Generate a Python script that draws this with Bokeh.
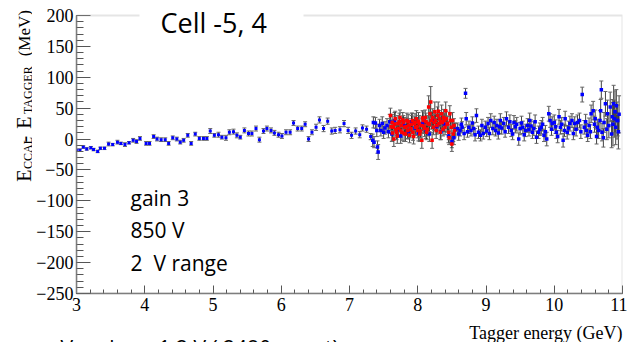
import math
from bokeh.plotting import figure
from bokeh.layouts import column, row
from bokeh.models import (ColumnDataSource, Whisker, TeeHead, Label, Range1d, BoxAnnotation,
                          SingleIntervalTicker, CustomJSTickFormatter)
from bokeh.embed import file_html
from bokeh.resources import INLINE

# ---------------- data ----------------
# low-energy scan, blue, small errors
low_x = [3.00, 3.05, 3.10, 3.15, 3.21, 3.25, 3.31, 3.35, 3.41, 3.47, 3.53, 3.60, 3.65, 3.71, 3.77, 3.83, 3.88, 3.93,
         4.02, 4.07, 4.13, 4.18, 4.24, 4.30, 4.35, 4.41, 4.47, 4.52, 4.57, 4.63, 4.68, 4.74, 4.80, 4.86, 4.91, 4.96,
         5.02, 5.08, 5.13, 5.19, 5.24, 5.30, 5.35, 5.40, 5.46, 5.52, 5.57, 5.63, 5.68, 5.74, 5.79, 5.85, 5.90, 5.96,
         6.01, 6.07, 6.13, 6.18, 6.24, 6.30, 6.35, 6.40, 6.45, 6.51, 6.56, 6.62, 6.68, 6.74, 6.79, 6.86, 6.92, 6.98,
         7.03, 7.09, 7.15, 7.19, 7.25, 7.31]
low_y = [-18, -18, -13, -16, -14, -17, -20, -15, -15, -8, -9, -5, -7, -9, -6, -2, -4, 1,
         -7, -7, 4, 0, -1, -1, -7, 2, 0, -5, -2, 6, -7, 8, 1, 1, 1, 13,
         6, 7, 3, 2, 11, 12, 6, 3, 14, 9, 9, 17, -1, 13, 17, 14, 10, 7,
         5, 11, 11, 26, 17, 17, 24, 0, 11, 19, 31, 17, 29, 13, 14, 15, 25, 14,
         6, 13, 7, 18, 16, 4]
low_err = [2, 2, 2, 2, 2, 2, 2, 2, 2, 3, 2, 3, 2, 3, 2, 3, 3, 3,
           3, 3, 3, 3, 3, 3, 3, 3, 3, 3, 3, 3, 3, 3, 3, 3, 3, 4,
           3, 4, 3, 4, 4, 4, 4, 3, 4, 4, 4, 4, 4, 4, 4, 4, 4, 4,
           4, 4, 4, 4, 4, 4, 4, 4, 4, 5, 5, 5, 5, 5, 5, 5, 5, 5,
           5, 5, 5, 5, 5, 5]

# high-energy scan, blue
high_x = [7.34, 7.35, 7.36, 7.38, 7.40, 7.41, 7.42, 7.44, 7.46, 7.48, 7.50, 7.52, 7.55, 7.57, 7.59,
          7.62, 7.66, 7.70, 7.75, 7.80, 7.86, 7.91, 7.96, 8.01, 8.07, 8.12, 8.17, 8.22, 8.28, 8.34, 8.39,
          8.45, 8.50, 8.53, 8.55,
          8.58, 8.60, 8.62, 8.64, 8.65, 8.68, 8.70, 8.71, 8.73, 8.75, 8.78, 8.80, 8.82, 8.84, 8.86, 8.89,
          8.92, 8.94, 8.96, 8.99, 9.01, 9.03, 9.05, 9.07, 9.10, 9.12, 9.14, 9.16, 9.18, 9.20,
          9.21, 9.23, 9.26, 9.28, 9.30, 9.33, 9.35, 9.37, 9.39, 9.41, 9.43, 9.45, 9.48, 9.50, 9.52, 9.54,
          9.56, 9.58, 9.61, 9.63, 9.64, 9.66, 9.68, 9.70, 9.72, 9.74, 9.77, 9.79, 9.81, 9.83, 9.85, 9.87,
          9.89, 9.92, 9.94, 9.96, 9.97, 10.00, 10.02, 10.03, 10.05, 10.07, 10.09, 10.11, 10.13, 10.15,
          10.16, 10.19, 10.21, 10.23, 10.26, 10.28, 10.30, 10.32, 10.34, 10.37, 10.39, 10.41, 10.44,
          10.46, 10.47, 10.49, 10.51, 10.53, 10.54, 10.57, 10.59, 10.60, 10.62, 10.63, 10.65, 10.67,
          10.68, 10.69, 10.70, 10.72, 10.73, 10.75, 10.77, 10.78, 10.80, 10.82, 10.84, 10.85, 10.86,
          10.87, 10.88, 10.89, 10.90, 10.91, 10.92, 10.93, 10.94, 10.95]
high_y = [-2, 27, -5, 26, 14, -13, -21, 22, 14, 25, 11, 18, 22, 12, 28,
          8, 30, 15, 5, 22, 12, 28, 18, 10, 25, 15, 8, 30, 20, 12, 24,
          5, -4, 2, 15,
          17, 8, 14, 24, 19, 9, 74, 33, 12, 19, 14, 26, 17, 7, 38, 11,
          6, 22, 9, 19, 13, 25, 9, 30, 17, 27, 14, 22, 10, 20,
          30, 18, 25, 12, 33, 19, 28, 14, 8, 27, 20, 24, 0, 17, 26, 19,
          7, 14, 22, 15, 30, 21, 11, 17, 28, 3, 11, 16, 19, 24, 6, 12,
          0, 41, 30, 16, 25, 27, 20, 11, 4, 36, 19, 24, -2, 14,
          33, 11, 18, 25, 30, 9, 25, 16, 27, 30, 12, 72, 19,
          28, 14, 6, 22, 12, 41, 46, 24, 33, 4, 19, 14, 30,
          46, 80, 11, 2, 27, 57, 16, 41, 22, 52, 8, 36, 24,
          57, 33, 44, 19, 54, 30, 30, 12, 40]
high_err = [10, 9, 9, 9, 10, 10, 12, 10, 9, 11, 10, 10, 11, 10, 12,
            12, 13, 12, 12, 13, 12, 14, 12, 13, 12, 14, 12, 13, 12, 13, 12,
            11, 10, 11, 10,
            9, 10, 9, 10, 9, 10, 8, 10, 9, 10, 9, 10, 9, 10, 11, 10,
            9, 10, 9, 10, 9, 10, 10, 11, 10, 10, 9, 10, 10, 11,
            11, 10, 10, 9, 11, 10, 11, 10, 9, 11, 10, 11, 10, 10, 11, 10,
            10, 10, 11, 10, 12, 10, 10, 11, 11, 10, 10, 10, 11, 11, 10, 10,
            11, 12, 11, 10, 11, 12, 11, 10, 10, 12, 11, 11, 11, 10,
            12, 11, 11, 12, 11, 10, 11, 11, 12, 12, 11, 12, 11,
            12, 11, 10, 12, 11, 14, 15, 13, 14, 12, 13, 13, 16,
            18, 14, 14, 15, 16, 20, 17, 22, 20, 24, 22, 28, 35,
            30, 30, 34, 28, 26, 30, 25, 28, 30]

# high-energy scan, red
red_x = [7.60, 7.61, 7.625, 7.63, 7.64, 7.65, 7.66, 7.67, 7.68, 7.69, 7.70, 7.71, 7.72, 7.73, 7.74, 7.75,
         7.76, 7.77, 7.78, 7.79, 7.80, 7.81, 7.82, 7.83, 7.84, 7.85, 7.86, 7.87, 7.88, 7.89, 7.90, 7.91,
         7.92, 7.93, 7.94, 7.95, 7.96, 7.97, 7.98, 7.99, 8.00, 8.01, 8.02, 8.03, 8.04, 8.05, 8.06, 8.07,
         8.08, 8.09, 8.10, 8.11, 8.12, 8.13, 8.14, 8.15, 8.16, 8.17, 8.18, 8.19, 8.20, 8.21, 8.22, 8.23,
         8.24, 8.25, 8.26, 8.27, 8.28, 8.29, 8.30, 8.31, 8.32, 8.33, 8.34, 8.35, 8.36, 8.37, 8.38, 8.39,
         8.40, 8.41, 8.42, 8.43, 8.44, 8.455, 8.46, 8.47, 8.48, 8.49, 8.50, 8.51, 8.52, 8.53, 8.54]
red_y = [38, 20, 27, 10, 19, 0, 24, 33, 16, 11, 5, 25, 17, 28, 35, 14,
         22, 11, 31, 27, 9, 19, 8, 20, 30, 14, 28, 22, 6, 15, 17, 24,
         30, 11, 4, 25, 27, 19, 33, 20, 14, 29, 25, 8, 13, 22, -2, 34,
         30, 21, 17, 35, 28, 11, 16, 25, 52, 24, 41, 60, 30, -2, 35, 19,
         27, 44, 30, 14, 22, 38, 45, 25, 33, 11, 28, 41, 27, 16, 35, 30,
         19, 46, 33, 24, 25, 11, 2, 41, 30, 19, -8, 30, 8, 22, 14]
red_err = [12, 11, 13, 12, 11, 12, 13, 12, 11, 12, 12, 13, 12, 14, 12, 11,
           12, 13, 12, 11, 13, 12, 12, 14, 12, 13, 12, 11, 12, 13, 12, 14,
           12, 13, 12, 11, 14, 12, 13, 12, 12, 14, 13, 12, 11, 12, 13, 12,
           14, 12, 13, 12, 14, 12, 11, 13, 18, 12, 20, 25, 14, 13, 14, 12,
           13, 16, 12, 13, 12, 14, 15, 12, 13, 12, 13, 14, 12, 11, 13, 12,
           12, 14, 12, 13, 12, 12, 11, 13, 12, 11, 12, 13, 12, 11, 12]

x_tick_interval = 1
y_tick_interval = 50
x_title = "Tagger energy (GeV)"
plot_title = "Cell -5, 4"
notes = ["gain 3", "850 V", "2\u00a0 V range"]

SANS = "Open Sans"
SERIF = "Liberation Serif"
# distance (in em) from the alphabetic baseline up to the middle of the text box
MID = {SANS: 0.388, SERIF: 0.3375}

# ---------------- layout (page pixels) ----------------
PAGE_W, PAGE_H = 627, 342
LEFT_W = 32            # strip holding the rotated y title
MAIN_H = 320           # main figure height
FRAME_L, FRAME_R, FRAME_T, FRAME_B = 76, 622, 15, 293   # where x=3..11 / y=200..-250 sit
X0, X1 = 3, 11
Y0, Y1 = -250, 200
YTOP = Y1 + (FRAME_T - 0) * (Y1 - Y0) / (FRAME_B - FRAME_T)   # frame reaches the page top


def dx(px):
    return X0 + (px - FRAME_L) * (X1 - X0) / (FRAME_R - FRAME_L)


def dy(py):
    return Y1 - (py - FRAME_T) * (Y1 - Y0) / (FRAME_B - FRAME_T)


main_w = PAGE_W - LEFT_W
p = figure(width=main_w, height=MAIN_H, output_backend="svg", toolbar_location=None,
           x_range=Range1d(X0, X1), y_range=Range1d(Y0, YTOP),
           min_border_left=FRAME_L - LEFT_W, min_border_right=PAGE_W - FRAME_R,
           min_border_top=0, min_border_bottom=MAIN_H - FRAME_B)
p.background_fill_color = "white"
p.border_fill_color = "white"
p.outline_line_color = None
p.xgrid.visible = False
p.ygrid.visible = False

for axes in (p.xaxis, p.yaxis):
    axes.axis_line_color = "#777777"
    axes.axis_line_width = 1.5
    axes.major_tick_line_color = "#555555"
    axes.minor_tick_line_color = "#555555"
    axes.major_tick_out = 0
    axes.minor_tick_out = 0
    axes.major_label_text_font = SERIF
    axes.major_label_text_font_size = "18px"
    axes.major_label_text_color = "black"

p.xaxis.ticker = SingleIntervalTicker(interval=x_tick_interval, num_minor_ticks=5)
p.yaxis.ticker = SingleIntervalTicker(interval=y_tick_interval, num_minor_ticks=5)
p.yaxis.bounds = (Y0, Y1)
p.xaxis.major_tick_in = 8
p.xaxis.minor_tick_in = 4
p.yaxis.major_tick_in = 14
p.yaxis.minor_tick_in = 7
p.xaxis.major_label_standoff = 4
p.yaxis.major_label_standoff = 3
p.yaxis.formatter = CustomJSTickFormatter(
    code="return tick < 0 ? '\\u2212' + Math.abs(tick) : String(tick);")

# frame box (top / right edges in gray)
p.add_layout(BoxAnnotation(left=X0, right=X1, bottom=Y0, top=Y1, fill_color=None,
                           line_color="#aaaaaa", line_width=2))


def series(xs, ys, es):
    assert len(xs) == len(ys) == len(es)
    src = ColumnDataSource(dict(x=xs, y=ys,
                                up=[y + e for y, e in zip(ys, es)],
                                dn=[y - e for y, e in zip(ys, es)]))
    p.add_layout(Whisker(source=src, base="x", upper="up", lower="dn", dimension="height",
                         line_color="#222222", line_width=1, line_alpha=0.85,
                         upper_head=TeeHead(size=4, line_color="#666666", line_width=1),
                         lower_head=TeeHead(size=4, line_color="#666666", line_width=1)))
    return src


src_low = series(low_x, low_y, low_err)
src_high = series(high_x, high_y, high_err)
p.scatter("x", "y", source=src_low, marker="square", size=3, fill_color="#0000ff", line_color=None)
p.scatter("x", "y", source=src_high, marker="square", size=3.5, fill_color="#0000ff", line_color=None)
src_red = series(red_x, red_y, red_err)
p.scatter("x", "y", source=src_red, marker="square", size=3.5, fill_color="#ff0000", line_color=None)

# white gap in the frame's top edge behind the title
p.add_layout(BoxAnnotation(left=dx(139), right=dx(303), bottom=dy(24), top=YTOP,
                           fill_color="white", fill_alpha=1, line_color=None, level="overlay"))


def lab(fig, text, x, y, font, size, align="left", angle=0.0, **kw):
    """x, y: data position of the middle of the text box (text_baseline='middle')."""
    fig.add_layout(Label(x=x, y=y, text=text, text_font=font,
                         text_font_size=f"{size}px", text_align=align,
                         text_baseline="middle", angle=angle,
                         text_color="black", **kw))


def mid(font, size):
    return MID[font] * size


# main figure texts (page baseline -> middle)
lab(p, plot_title, dx(160), dy(32 - mid(SANS, 27)), SANS, 27, level="overlay")
for t, base in zip(notes, [206, 238, 271]):
    lab(p, t, dx(130), dy(base - mid(SANS, 21)), SANS, 21)


def strip(w, h):
    f = figure(width=w, height=h, output_backend="svg", toolbar_location=None,
               x_range=Range1d(0, w), y_range=Range1d(0, h),
               x_axis_location=None, y_axis_location=None,
               min_border=0, min_border_left=0, min_border_right=0,
               min_border_top=0, min_border_bottom=0)
    f.outline_line_color = None
    f.background_fill_color = "white"
    f.border_fill_color = "white"
    f.grid.visible = False
    return f


# left strip: rotated y title  E_CCAL - E_TAGGER  (MeV); baseline x given in page px
left = strip(LEFT_W, MAIN_H)
up = math.pi / 2
for text, bx, py, size in [("E", 30, 198, 20), ("CCAL", 32, 184, 12), ("-", 30, 155, 20),
                           ("E", 30, 140, 20), ("TAGGER", 32, 124, 12), ("(MeV)", 30, 61, 17)]:
    lab(left, text, bx - mid(SERIF, size), MAIN_H - py, SERIF, size, angle=up)

# bottom strip: x title and the cut-off caption
bottom = strip(PAGE_W, PAGE_H - MAIN_H)
lab(bottom, x_title, 622, PAGE_H - (339 - mid(SERIF, 18)), SERIF, 18, align="right")
lab(bottom, "Vpeak =", 60, PAGE_H - (356 - mid(SANS, 21)), SANS, 21)
lab(bottom, "1.2 V ( 2480 count)", 158, PAGE_H - (356 - mid(SANS, 21)), SANS, 21)

layout = column(row(left, p, spacing=0), bottom, spacing=0)
open("out.html", "w").write(file_html(layout, INLINE))
